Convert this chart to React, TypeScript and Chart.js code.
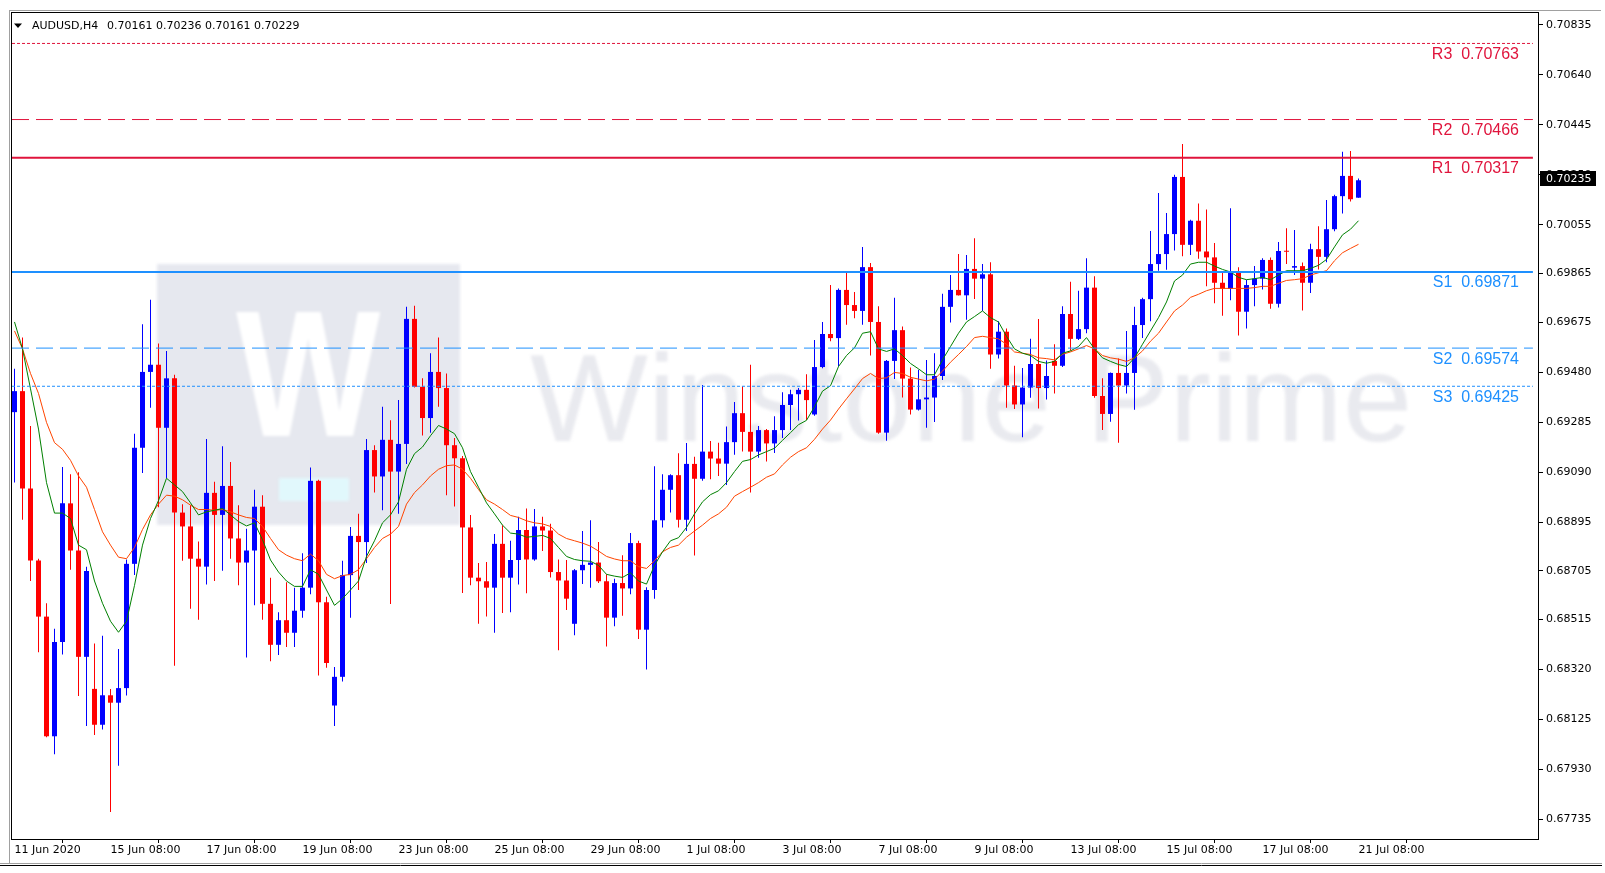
import React, { useEffect, useRef } from "react";
import { Chart, registerables } from "chart.js";

Chart.register(...registerables);

const opens = [
  0.69324, 0.69406, 0.69026, 0.68745, 0.68526, 0.68059, 0.68427, 0.68968, 0.68784, 0.68369,
  0.68244, 0.68104, 0.68219, 0.68190, 0.68247, 0.68732, 0.69185, 0.69481, 0.69509, 0.69263,
  0.69456, 0.68932, 0.68878, 0.68752, 0.68721, 0.69009, 0.68923, 0.69036, 0.68831, 0.68737,
  0.68784, 0.68955, 0.68576, 0.68416, 0.68512, 0.68463, 0.68549, 0.68639, 0.69056, 0.68582,
  0.68179, 0.68291, 0.68688, 0.68841, 0.68817, 0.69176, 0.69073, 0.69216, 0.69092, 0.69200,
  0.69688, 0.69423, 0.69301, 0.69481, 0.69418, 0.69195, 0.69144, 0.68874, 0.68678, 0.68664,
  0.68639, 0.68810, 0.68678, 0.68747, 0.68864, 0.68749, 0.68878, 0.68862, 0.68700, 0.68667,
  0.68498, 0.68707, 0.68728, 0.68737, 0.68664, 0.68522, 0.68657, 0.68636, 0.68813, 0.68475,
  0.68630, 0.68902, 0.69021, 0.69078, 0.68904, 0.69122, 0.69064, 0.69170, 0.69143, 0.69123,
  0.69207, 0.69320, 0.69247, 0.69170, 0.69254, 0.69202, 0.69254, 0.69352, 0.69394, 0.69411,
  0.69315, 0.69500, 0.69629, 0.69613, 0.69801, 0.69742, 0.69719, 0.69890, 0.69676, 0.69244,
  0.69524, 0.69644, 0.69455, 0.69334, 0.69374, 0.69381, 0.69465, 0.69735, 0.69801, 0.69780,
  0.69883, 0.69845, 0.69862, 0.69549, 0.69638, 0.69428, 0.69354, 0.69420, 0.69512, 0.69418,
  0.69524, 0.69505, 0.69707, 0.69610, 0.69648, 0.69810, 0.69387, 0.69317, 0.69477, 0.69428,
  0.69477, 0.69664, 0.69765, 0.69902, 0.69941, 0.70019, 0.70242, 0.69977, 0.70071, 0.69951,
  0.69928, 0.69829, 0.69805, 0.69867, 0.69716, 0.69820, 0.69845, 0.69918, 0.69747, 0.69953,
  0.69888, 0.69894, 0.69829, 0.69960, 0.69930, 0.70038, 0.70167, 0.70246, 0.70161,
];

const highs = [
  0.69493, 0.69615, 0.69270, 0.68752, 0.68578, 0.68479, 0.69110, 0.69082, 0.69089, 0.68721,
  0.68421, 0.68451, 0.68244, 0.68400, 0.68749, 0.69240, 0.69667, 0.69763, 0.69592, 0.69563,
  0.69470, 0.68965, 0.68961, 0.68819, 0.69219, 0.69052, 0.69191, 0.69129, 0.68961, 0.68869,
  0.69021, 0.69000, 0.68678, 0.68543, 0.68660, 0.68639, 0.68773, 0.69108, 0.69060, 0.68604,
  0.68329, 0.68744, 0.68876, 0.68927, 0.69219, 0.69195, 0.69345, 0.69292, 0.69371, 0.69735,
  0.69739, 0.69456, 0.69554, 0.69615, 0.69475, 0.69223, 0.69153, 0.68923, 0.68735, 0.68739,
  0.68848, 0.68883, 0.68822, 0.68916, 0.68948, 0.68946, 0.68916, 0.68888, 0.68749, 0.68747,
  0.68712, 0.68860, 0.68902, 0.68817, 0.68691, 0.68674, 0.68766, 0.68852, 0.68822, 0.68641,
  0.69113, 0.69082, 0.69082, 0.69164, 0.69204, 0.69150, 0.69430, 0.69211, 0.69205, 0.69268,
  0.69364, 0.69425, 0.69509, 0.69270, 0.69258, 0.69308, 0.69402, 0.69411, 0.69418, 0.69472,
  0.69606, 0.69676, 0.69820, 0.69807, 0.69869, 0.69793, 0.69969, 0.69906, 0.69737, 0.69528,
  0.69770, 0.69658, 0.69498, 0.69489, 0.69528, 0.69554, 0.69786, 0.69859, 0.69941, 0.69937,
  0.70003, 0.69902, 0.69909, 0.69679, 0.69650, 0.69505, 0.69496, 0.69610, 0.69688, 0.69526,
  0.69589, 0.69737, 0.69833, 0.69798, 0.69925, 0.69854, 0.69456, 0.69479, 0.69533, 0.69641,
  0.69735, 0.69770, 0.70031, 0.70179, 0.70101, 0.70251, 0.70371, 0.70075, 0.70138, 0.70115,
  0.69984, 0.69871, 0.70120, 0.69890, 0.69841, 0.69894, 0.69925, 0.69928, 0.69988, 0.70042,
  0.70035, 0.69908, 0.69981, 0.70050, 0.70152, 0.70172, 0.70340, 0.70343, 0.70236,
];

const lows = [
  0.69049, 0.68904, 0.68665, 0.68387, 0.68055, 0.67989, 0.68378, 0.68709, 0.68216, 0.68099,
  0.68064, 0.68085, 0.67763, 0.67944, 0.68218, 0.68688, 0.69087, 0.69341, 0.68953, 0.69066,
  0.68334, 0.68744, 0.68557, 0.68514, 0.68651, 0.68665, 0.68705, 0.68752, 0.68648, 0.68366,
  0.68570, 0.68514, 0.68352, 0.68376, 0.68407, 0.68407, 0.68522, 0.68613, 0.68296, 0.68326,
  0.68099, 0.68273, 0.68522, 0.68630, 0.68735, 0.69010, 0.68941, 0.68575, 0.68927, 0.69122,
  0.69420, 0.69233, 0.69244, 0.69345, 0.69000, 0.68956, 0.68618, 0.68648, 0.68498, 0.68526,
  0.68463, 0.68540, 0.68543, 0.68651, 0.68617, 0.68744, 0.68782, 0.68679, 0.68395, 0.68552,
  0.68453, 0.68653, 0.68639, 0.68657, 0.68409, 0.68488, 0.68529, 0.68613, 0.68439, 0.68320,
  0.68596, 0.68874, 0.68932, 0.68874, 0.68860, 0.68765, 0.69056, 0.69062, 0.69075, 0.69040,
  0.69158, 0.69170, 0.69010, 0.69146, 0.69131, 0.69165, 0.69223, 0.69254, 0.69291, 0.69293,
  0.69310, 0.69495, 0.69601, 0.69502, 0.69665, 0.69690, 0.69665, 0.69545, 0.69240, 0.69212,
  0.69453, 0.69381, 0.69315, 0.69330, 0.69263, 0.69286, 0.69449, 0.69674, 0.69779, 0.69685,
  0.69766, 0.69719, 0.69493, 0.69533, 0.69341, 0.69336, 0.69226, 0.69380, 0.69338, 0.69373,
  0.69397, 0.69500, 0.69564, 0.69606, 0.69632, 0.69380, 0.69254, 0.69287, 0.69205, 0.69397,
  0.69333, 0.69613, 0.69679, 0.69876, 0.69880, 0.69955, 0.69932, 0.69937, 0.69923, 0.69815,
  0.69749, 0.69700, 0.69761, 0.69623, 0.69650, 0.69737, 0.69803, 0.69728, 0.69732, 0.69902,
  0.69859, 0.69721, 0.69789, 0.69881, 0.69909, 0.70030, 0.70099, 0.70146, 0.70161,
];

const closes = [
  0.69406, 0.69026, 0.68745, 0.68526, 0.68059, 0.68427, 0.68968, 0.68784, 0.68369, 0.68704,
  0.68104, 0.68219, 0.68190, 0.68247, 0.68732, 0.69185, 0.69481, 0.69509, 0.69263, 0.69456,
  0.68932, 0.68878, 0.68752, 0.68721, 0.69009, 0.68923, 0.69036, 0.68831, 0.68737, 0.68784,
  0.68955, 0.68576, 0.68416, 0.68512, 0.68463, 0.68549, 0.68639, 0.69056, 0.68582, 0.68345,
  0.68291, 0.68688, 0.68841, 0.68817, 0.69176, 0.69073, 0.69216, 0.69092, 0.69200, 0.69688,
  0.69423, 0.69301, 0.69481, 0.69418, 0.69195, 0.69144, 0.68874, 0.68678, 0.68664, 0.68639,
  0.68810, 0.68678, 0.68747, 0.68864, 0.68749, 0.68878, 0.68862, 0.68700, 0.68667, 0.68596,
  0.68707, 0.68728, 0.68737, 0.68664, 0.68522, 0.68657, 0.68636, 0.68813, 0.68475, 0.68630,
  0.68902, 0.69021, 0.69078, 0.68904, 0.69122, 0.69064, 0.69170, 0.69143, 0.69123, 0.69207,
  0.69320, 0.69247, 0.69170, 0.69254, 0.69202, 0.69254, 0.69352, 0.69394, 0.69411, 0.69371,
  0.69500, 0.69629, 0.69613, 0.69801, 0.69742, 0.69719, 0.69890, 0.69676, 0.69244, 0.69524,
  0.69644, 0.69455, 0.69334, 0.69374, 0.69381, 0.69465, 0.69735, 0.69801, 0.69780, 0.69883,
  0.69845, 0.69862, 0.69549, 0.69638, 0.69428, 0.69354, 0.69420, 0.69512, 0.69418, 0.69465,
  0.69505, 0.69707, 0.69610, 0.69648, 0.69810, 0.69387, 0.69317, 0.69477, 0.69428, 0.69477,
  0.69664, 0.69765, 0.69902, 0.69941, 0.70019, 0.70242, 0.69977, 0.70071, 0.69951, 0.69928,
  0.69829, 0.69805, 0.69867, 0.69716, 0.69820, 0.69845, 0.69918, 0.69747, 0.69953, 0.69950,
  0.69894, 0.69829, 0.69960, 0.69930, 0.70038, 0.70167, 0.70246, 0.70155, 0.70229,
];

const maFast = [
  0.69676, 0.69571, 0.69415, 0.69258, 0.69049, 0.68930, 0.68930, 0.68909, 0.68805, 0.68787,
  0.68665, 0.68578, 0.68508, 0.68465, 0.68508, 0.68648, 0.68805, 0.68909, 0.68979, 0.69066,
  0.69040, 0.69014, 0.68970, 0.68923, 0.68935, 0.68941, 0.68948, 0.68923, 0.68897, 0.68880,
  0.68892, 0.68826, 0.68747, 0.68700, 0.68665, 0.68644, 0.68644, 0.68709, 0.68691, 0.68630,
  0.68570, 0.68596, 0.68630, 0.68665, 0.68761, 0.68822, 0.68892, 0.68923, 0.68974, 0.69101,
  0.69162, 0.69188, 0.69232, 0.69272, 0.69258, 0.69240, 0.69185, 0.69092, 0.69031, 0.68970,
  0.68927, 0.68883, 0.68852, 0.68848, 0.68836, 0.68839, 0.68843, 0.68831, 0.68796, 0.68761,
  0.68749, 0.68744, 0.68742, 0.68726, 0.68691, 0.68684, 0.68679, 0.68697, 0.68665, 0.68653,
  0.68726, 0.68779, 0.68822, 0.68834, 0.68874, 0.68927, 0.68974, 0.69002, 0.69017, 0.69049,
  0.69092, 0.69132, 0.69139, 0.69157, 0.69170, 0.69183, 0.69214, 0.69244, 0.69275, 0.69292,
  0.69345, 0.69406, 0.69427, 0.69502, 0.69545, 0.69575, 0.69632, 0.69638, 0.69571, 0.69561,
  0.69571, 0.69545, 0.69514, 0.69493, 0.69470, 0.69470, 0.69528, 0.69580, 0.69632, 0.69676,
  0.69697, 0.69719, 0.69693, 0.69676, 0.69620, 0.69571, 0.69554, 0.69545, 0.69522, 0.69515,
  0.69522, 0.69554, 0.69563, 0.69580, 0.69615, 0.69571, 0.69536, 0.69522, 0.69510, 0.69502,
  0.69536, 0.69589, 0.69641, 0.69693, 0.69754, 0.69836, 0.69859, 0.69902, 0.69909, 0.69909,
  0.69894, 0.69881, 0.69871, 0.69850, 0.69841, 0.69845, 0.69850, 0.69841, 0.69859, 0.69876,
  0.69876, 0.69876, 0.69885, 0.69897, 0.69920, 0.69969, 0.70016, 0.70038, 0.70071,
];

const maSlow = [
  0.69641, 0.69571, 0.69475, 0.69397, 0.69284, 0.69205, 0.69179, 0.69136, 0.69075, 0.69031,
  0.68944, 0.68857, 0.68805, 0.68758, 0.68752, 0.68796, 0.68866, 0.68923, 0.68965, 0.69000,
  0.68996, 0.68982, 0.68961, 0.68944, 0.68944, 0.68941, 0.68944, 0.68935, 0.68923, 0.68913,
  0.68909, 0.68878, 0.68831, 0.68787, 0.68766, 0.68752, 0.68744, 0.68770, 0.68744, 0.68691,
  0.68674, 0.68686, 0.68691, 0.68709, 0.68752, 0.68796, 0.68831, 0.68848, 0.68878, 0.68965,
  0.69010, 0.69040, 0.69075, 0.69101, 0.69115, 0.69118, 0.69101, 0.69066, 0.69022, 0.68982,
  0.68965, 0.68944, 0.68921, 0.68913, 0.68900, 0.68892, 0.68888, 0.68878, 0.68848, 0.68831,
  0.68822, 0.68813, 0.68801, 0.68782, 0.68761, 0.68751, 0.68744, 0.68744, 0.68721, 0.68714,
  0.68744, 0.68779, 0.68796, 0.68805, 0.68836, 0.68860, 0.68883, 0.68909, 0.68927, 0.68953,
  0.68996, 0.69014, 0.69031, 0.69049, 0.69070, 0.69083, 0.69118, 0.69148, 0.69170, 0.69185,
  0.69218, 0.69258, 0.69293, 0.69336, 0.69376, 0.69415, 0.69455, 0.69475, 0.69455, 0.69458,
  0.69479, 0.69475, 0.69460, 0.69453, 0.69446, 0.69453, 0.69484, 0.69519, 0.69549, 0.69580,
  0.69615, 0.69620, 0.69615, 0.69610, 0.69589, 0.69559, 0.69554, 0.69549, 0.69536, 0.69533,
  0.69528, 0.69550, 0.69559, 0.69571, 0.69584, 0.69571, 0.69545, 0.69536, 0.69531, 0.69522,
  0.69536, 0.69563, 0.69601, 0.69632, 0.69676, 0.69719, 0.69742, 0.69772, 0.69784, 0.69798,
  0.69807, 0.69807, 0.69807, 0.69807, 0.69807, 0.69810, 0.69815, 0.69815, 0.69827, 0.69838,
  0.69841, 0.69845, 0.69859, 0.69868, 0.69876, 0.69915, 0.69946, 0.69963, 0.69979,
];

const xTickIndex = [0, 12, 24, 36, 48, 60, 72, 84, 96, 108, 120, 132, 144, 156, 168];
const xTickLabels = [
  "11 Jun 2020", "15 Jun 08:00", "17 Jun 08:00", "19 Jun 08:00", "23 Jun 08:00",
  "25 Jun 08:00", "29 Jun 08:00", "1 Jul 08:00", "3 Jul 08:00", "7 Jul 08:00",
  "9 Jul 08:00", "13 Jul 08:00", "15 Jul 08:00", "17 Jul 08:00", "21 Jul 08:00",
];

const yTickValues = [
  0.70835, 0.7064, 0.70445, 0.7025, 0.70055, 0.69865, 0.69675, 0.6948, 0.69285,
  0.6909, 0.68895, 0.68705, 0.68515, 0.6832, 0.68125, 0.6793, 0.67735,
];

const pivotNames = ["R3", "R2", "R1", "S1", "S2", "S3"];
const pivotLevels = [0.70763, 0.70466, 0.70317, 0.69871, 0.69574, 0.69425];

const symbolTitle = "AUDUSD,H4";
const lastQuote = [0.70161, 0.70236, 0.70161, 0.70229];
const askPrice = 0.70235;
const watermarkText = "Winstone Prime";

const X_MIN = -0.3125;
const X_MAX = 190.4375;
const Y_MIN = 0.676581;
const Y_MAX = 0.708818;
const PIVOT_END = 189.8;

const TICK_FONT = { family: "DejaVu Sans", size: 11 };

const mt4Plugin = {
  id: "mt4look",
  beforeDraw(chart: any) {
    const ctx = chart.ctx;
    ctx.save();
    ctx.fillStyle = "#FFFFFF";
    ctx.fillRect(0, 0, chart.width, chart.height);
    ctx.lineWidth = 1;
    ctx.strokeStyle = "#A0A0A0";
    ctx.beginPath();
    ctx.moveTo(9, 10.5);
    ctx.lineTo(1601, 10.5);
    ctx.moveTo(9.5, 10);
    ctx.lineTo(9.5, 864);
    ctx.moveTo(0, 863.5);
    ctx.lineTo(1602, 863.5);
    ctx.stroke();
    ctx.strokeStyle = "#000000";
    ctx.beginPath();
    ctx.moveTo(0, 865.5);
    ctx.lineTo(1602, 865.5);
    ctx.stroke();
    ctx.restore();
  },
  beforeDatasetsDraw(chart: any) {
    const ctx = chart.ctx;
    const a = chart.chartArea;
    ctx.save();
    ctx.beginPath();
    ctx.rect(a.left, a.top, a.right - a.left, a.bottom - a.top);
    ctx.clip();
    ctx.filter = "blur(1.4px)";
    // logo box
    ctx.fillStyle = "#E6E8EF";
    ctx.fillRect(157, 264, 303, 261);
    ctx.save();
    ctx.translate(236, 436);
    ctx.scale(0.85, 1);
    ctx.fillStyle = "#FFFFFF";
    ctx.font = 'bold 180px "Liberation Sans"';
    ctx.textBaseline = "alphabetic";
    ctx.fillText("W", 0, 0);
    ctx.restore();
    ctx.fillStyle = "#E1F8FC";
    ctx.fillRect(279, 478, 70, 23);
    // watermark text
    ctx.fillStyle = "#E9EAEF";
    ctx.font = '125px "Liberation Sans"';
    ctx.textBaseline = "alphabetic";
    ctx.textAlign = "left";
    ctx.fillText(watermarkText, 530, 441);
    ctx.restore();
  },
  afterDatasetsDraw(chart: any) {
    const ctx = chart.ctx;
    const y = chart.scales.y;
    const a = chart.chartArea;
    ctx.save();
    ctx.font = '16px "Liberation Sans"';
    ctx.textAlign = "right";
    ctx.textBaseline = "middle";
    pivotNames.forEach((name, k) => {
      const py = y.getPixelForValue(pivotLevels[k]);
      ctx.fillStyle = k < 3 ? "#E0143C" : "#1E90FF";
      ctx.fillText(name + "  " + pivotLevels[k].toFixed(5), a.right - 19, py + 11);
    });
    ctx.restore();
  },
  afterDraw(chart: any) {
    const ctx = chart.ctx;
    const a = chart.chartArea;
    const y = chart.scales.y;
    ctx.save();
    // plot frame
    ctx.strokeStyle = "#000000";
    ctx.lineWidth = 1;
    ctx.strokeRect(a.left - 0.5, a.top - 0.5, a.right - a.left + 1, a.bottom - a.top + 1);
    // title
    ctx.fillStyle = "#000000";
    ctx.beginPath();
    ctx.moveTo(14, 23.5);
    ctx.lineTo(22, 23.5);
    ctx.lineTo(18, 28);
    ctx.closePath();
    ctx.fill();
    ctx.font = '11px "DejaVu Sans"';
    ctx.textBaseline = "middle";
    ctx.textAlign = "left";
    ctx.fillText(symbolTitle, 32, 26);
    ctx.fillText(lastQuote.map((v) => v.toFixed(5)).join(" "), 107, 26);
    // ask price box
    const ay = Math.round(y.getPixelForValue(askPrice));
    ctx.fillStyle = "#000000";
    ctx.fillRect(a.right + 2, ay - 8, 56, 15);
    ctx.fillStyle = "#FFFFFF";
    ctx.fillText(askPrice.toFixed(5), a.right + 8, ay + 0.5);
    ctx.restore();
  },
};

export default function App() {
  const ref = useRef<HTMLCanvasElement | null>(null);

  useEffect(() => {
    if (!ref.current) return;
    const idx = opens.map((_, i) => i);
    const colors = idx.map((i) => (closes[i] >= opens[i] ? "#0000FF" : "#FF0000"));
    const wickData = idx.map((i) => ({ x: i, y: [lows[i], highs[i]] }));
    const bodyData = idx.map((i) => ({ x: i, y: [opens[i], closes[i]] }));
    const fastData = idx.map((i) => ({ x: i, y: maFast[i] }));
    const slowData = idx.map((i) => ({ x: i, y: maSlow[i] }));

    const pivotStyles = [
      { color: "#E0143C", width: 1, dash: [3, 2] },
      { color: "#E0143C", width: 1, dash: [17, 7] },
      { color: "#E0143C", width: 2, dash: [] },
      { color: "#1E90FF", width: 2, dash: [] },
      { color: "#1E90FF", width: 1, dash: [17, 7] },
      { color: "#1E90FF", width: 1, dash: [3, 2] },
    ];
    const pivotDatasets = pivotLevels.map((lvl, k) => ({
      type: "line" as const,
      data: [
        { x: X_MIN, y: lvl },
        { x: PIVOT_END, y: lvl },
      ],
      borderColor: pivotStyles[k].color,
      borderWidth: pivotStyles[k].width,
      borderDash: pivotStyles[k].dash,
      pointRadius: 0,
      fill: false,
      order: 0,
    }));

    const chart = new Chart(ref.current, {
      type: "bar",
      data: {
        datasets: [
          ...pivotDatasets,
          {
            type: "line",
            data: fastData,
            borderColor: "#008000",
            borderWidth: 1,
            pointRadius: 0,
            fill: false,
            tension: 0,
            order: 1,
          },
          {
            type: "line",
            data: slowData,
            borderColor: "#FF4500",
            borderWidth: 1,
            pointRadius: 0,
            fill: false,
            tension: 0,
            order: 1,
          },
          {
            type: "bar",
            data: bodyData as any,
            backgroundColor: colors,
            borderWidth: 0,
            barThickness: 5,
            grouped: false,
            minBarLength: 1,
            inflateAmount: 0,
            borderSkipped: false,
            order: 2,
          } as any,
          {
            type: "bar",
            data: wickData as any,
            backgroundColor: colors,
            borderWidth: 0,
            barThickness: 1,
            grouped: false,
            inflateAmount: 0,
            borderSkipped: false,
            order: 3,
          } as any,
        ],
      },
      options: {
        responsive: false,
        animation: false,
        devicePixelRatio: 1,
        events: [],
        layout: { padding: { left: 12, top: 13, right: 0, bottom: 0 } },
        plugins: {
          legend: { display: false },
          tooltip: { enabled: false },
          title: { display: false },
        },
        scales: {
          x: {
            type: "linear",
            position: "bottom",
            min: X_MIN,
            max: X_MAX,
            offset: false,
            border: { display: false },
            grid: {
              display: true,
              drawOnChartArea: false,
              drawTicks: true,
              tickLength: 4,
              color: "#000000",
            },
            ticks: {
              autoSkip: false,
              maxRotation: 0,
              minRotation: 0,
              align: "start",
              padding: 1,
              color: "#000000",
              font: TICK_FONT,
              callback: (v: any) => {
                const k = xTickIndex.indexOf(Number(v));
                return k >= 0 ? xTickLabels[k] : "";
              },
            },
            afterBuildTicks: (scale: any) => {
              scale.ticks = xTickIndex.map((v) => ({ value: v }));
            },
            afterFit: (scale: any) => {
              scale.height = 34;
            },
          },
          y: {
            type: "linear",
            position: "right",
            min: Y_MIN,
            max: Y_MAX,
            border: { display: false },
            grid: {
              display: true,
              drawOnChartArea: false,
              drawTicks: true,
              tickLength: 5,
              color: "#000000",
            },
            ticks: {
              autoSkip: false,
              padding: 3,
              color: "#000000",
              font: TICK_FONT,
              callback: (v: any) => Number(v).toFixed(5),
            },
            afterBuildTicks: (scale: any) => {
              scale.ticks = yTickValues.map((v) => ({ value: v }));
            },
            afterFit: (scale: any) => {
              scale.width = 67;
            },
          },
        },
      } as any,
      plugins: [mt4Plugin],
    });
    return () => chart.destroy();
  }, []);

  return (
    <div style={{ position: "fixed", left: 0, top: 0, width: 1605, height: 873, background: "#fff" }}>
      <canvas ref={ref} width={1605} height={873} style={{ display: "block" }} />
    </div>
  );
}
